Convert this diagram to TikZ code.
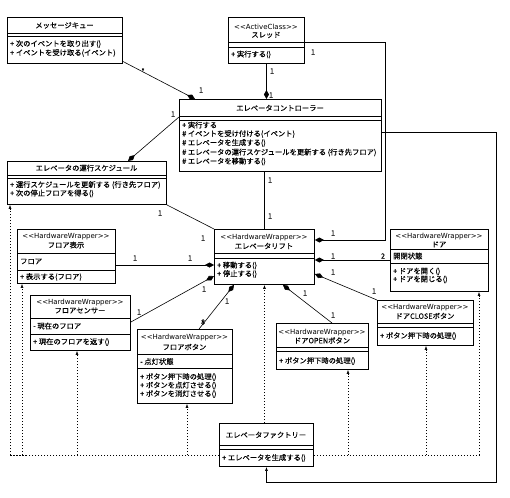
\documentclass[tikz,border=0pt]{standalone}
\usepackage{fontspec}
\setmainfont{Noto Sans CJK JP}[FakeBold=0.15]
\newfontfamily\stfont{DejaVu Sans}
\usetikzlibrary{arrows.meta}
\begin{document}
\begin{tikzpicture}[x=1pt,y=-1pt,
  font=\fontsize{7.3}{8.5}\selectfont,
  cls/.style={draw, line width=0.9pt, fill=white, inner sep=0pt, anchor=north west},
  sep/.style={line width=0.6pt},
  txt/.style={inner sep=0pt, anchor=west},
  ttl/.style={inner sep=0pt},
  stt/.style={inner sep=0pt, font=\stfont\fontsize{7}{8}\selectfont},
  lbl/.style={inner sep=0pt},
  assoc/.style={line width=0.6pt},
  comp/.style={line width=0.6pt, {Diamond[length=9pt,width=5pt]}-},
  nav/.style={line width=0.6pt, -{Latex[length=4pt,width=3pt]}},
  depline/.style={line width=0.6pt, dash pattern=on 1.5pt off 1.5pt},
  dep/.style={depline, -{Latex[length=4pt,width=3pt]}},
]
\useasboundingbox (0,0) rectangle (510,497);
\fill[white] (0,0) rectangle (510,497);

% boxes as shapes
\node[cls, minimum width=115pt, minimum height=46pt] (Q) at (7,17) {};
\node[cls, minimum width=76pt, minimum height=46pt] (T) at (228,17) {};
\node[cls, minimum width=202pt, minimum height=72pt] (C) at (179,99) {};
\node[cls, minimum width=159pt, minimum height=43pt] (S) at (7,161) {};
\node[cls, minimum width=100pt, minimum height=55pt] (L) at (214,229) {};
\node[cls, minimum width=98pt, minimum height=54pt] (FD) at (17,229) {};
\node[cls, minimum width=100pt, minimum height=55pt] (FS) at (30,295) {};
\node[cls, minimum width=95pt, minimum height=74pt] (FB) at (137,329) {};
\node[cls, minimum width=92pt, minimum height=46pt] (DO) at (276,323) {};
\node[cls, minimum width=96pt, minimum height=45pt] (DC) at (377,300) {};
\node[cls, minimum width=98pt, minimum height=62pt] (D) at (390,229) {};
\node[cls, minimum width=94pt, minimum height=43pt] (F) at (219,423) {};

% connectors
\draw[comp] ([xshift=16pt]C.north west) -- ([yshift=-21pt]Q.east);
\draw[comp] (C.north -| T.south) -- (T.south);
\coordinate (tl) at (385,42);
\draw[comp] ([yshift=-11pt]L.north east) -| (tl) -- ([yshift=-25pt]T.north east);
\coordinate (cs) at (128,161);
\draw[comp] (cs) -- ([yshift=-18pt]C.north west);
\draw[assoc] (L.north |- C.south) -- (L.north);
\coordinate (cf) at (496,482);
\draw[nav] ([yshift=-33pt]C.north east) -| (cf) -| (F.south);
\draw[assoc] (S.south east) -- (L.north west);
\coordinate (l8) at ([yshift=-36pt]L.north west);
\draw[comp] (l8) -- (l8 -| FD.east);
\draw[comp] ([yshift=-47pt]L.north west) -- ([yshift=-27pt]FS.north east);
\draw[comp] ([xshift=20pt]L.south west) -- ([xshift=62pt]FB.north west);
\draw[comp] ([xshift=-32pt]L.south east) -- ([xshift=56pt]DO.north west);
\draw[comp] ([yshift=-45pt]L.north east) -- (DC.north west);
\coordinate (l13) at ([yshift=-31pt]L.north east);
\draw[comp] (l13) -- (l13 -| D.west);

% dependencies
\coordinate (fl) at (10,455);
\coordinate (fr) at (479,455);
\coordinate (d2) at (22,455);
\coordinate (d3) at (77,455);
\coordinate (d4) at (187,455);
\coordinate (d5) at (348,455);
\coordinate (d6) at (426,455);
\draw[depline] (F.west |- fl) -- (fl);
\draw[depline] (F.east |- fr) -- (fr);
\draw[dep] (fl) -- (fl |- S.south);
\draw[dep] (d2) -- (d2 |- FD.south);
\draw[dep] (d3) -- (d3 |- FS.south);
\draw[dep] (d4) -- (d4 |- FB.south);
\draw[dep] (L.south |- F.north) -- (L.south);
\draw[dep] (d5) -- (d5 |- DO.south);
\draw[dep] (d6) -- (d6 |- DC.south);
\draw[dep] (fr) -- (fr |- D.south);

% redraw box borders on top of lines
\foreach \b in {Q,T,C,S,L,FD,FS,FB,DO,DC,D,F}{
  \draw[line width=0.9pt] (\b.north west) rectangle (\b.south east);
}

% ---------- compartments ----------
% Q
\draw[sep] (7,33) -- (122,33); \draw[sep] (7,36) -- (122,36);
\node[ttl] (Qt) at (64.5,25.5) {メッセージキュー};
\node[txt] (Qm1) at (10,44) {+ 次のイベントを取り出す()};
\node[txt] (Qm2) at (10,53) {+ イベントを受け取る(イベント)};
% T
\draw[sep] (228,42) -- (304,42); \draw[sep] (228,47) -- (304,47);
\node[stt] (Ts) at (266,26.5) {<{}<ActiveClass>{}>};
\node[ttl] (Tn) at (266,35) {スレッド};
\node[txt] (Tm1) at (231,54.5) {+ 実行する()};
% C
\draw[sep] (179,116) -- (381,116); \draw[sep] (179,120) -- (381,120);
\node[ttl] (Ct) at (280,108) {エレベータコントローラー};
\node[txt] (Cm1) at (182,125) {+ 実行する};
\node[txt] (Cm2) at (182,134) {\# イベントを受け付ける(イベント)};
\node[txt] (Cm3) at (182,143) {\# エレベータを生成する()};
\node[txt] (Cm4) at (182,152.5) {\# エレベータの運行スケジュールを更新する (行き先フロア)};
\node[txt] (Cm5) at (182,161.5) {\# エレベータを移動する()};
% S
\draw[sep] (7,175) -- (166,175); \draw[sep] (7,178) -- (166,178);
\node[ttl] (St) at (86.5,168) {エレベータの運行スケジュール};
\node[txt] (Sm1) at (10,185) {+ 運行スケジュールを更新する (行き先フロア)};
\node[txt] (Sm2) at (10,193.5) {+ 次の停止フロアを得る()};
% L
\draw[sep] (214,253) -- (314,253); \draw[sep] (214,258) -- (314,258);
\node[stt] (Ls) at (264,238) {<{}<HardwareWrapper>{}>};
\node[ttl] (Ln) at (264,246) {エレベータリフト};
\node[txt] (Lm1) at (217,265.5) {+ 移動する()};
\node[txt] (Lm2) at (217,274) {+ 停止する()};
% FD
\draw[sep] (17,253) -- (115,253); \draw[sep] (17,270) -- (115,270);
\node[stt] (FDs) at (66,237) {<{}<HardwareWrapper>{}>};
\node[ttl] (FDn) at (66,245) {フロア表示};
\node[txt] (FDa) at (20,261.5) {フロア};
\node[txt] (FDm) at (20,277) {+ 表示する(フロア)};
% FS
\draw[sep] (30,318) -- (130,318); \draw[sep] (30,334) -- (130,334);
\node[stt] (FSs) at (80,302.5) {<{}<HardwareWrapper>{}>};
\node[ttl] (FSn) at (80,310.5) {フロアセンサー};
\node[txt] (FSa) at (33,326) {- 現在のフロア};
\node[txt] (FSm) at (33,342) {+ 現在のフロアを返す()};
% FB
\draw[sep] (137,354) -- (232,354); \draw[sep] (137,368) -- (232,368);
\node[stt] (FBs) at (184.5,338) {<{}<HardwareWrapper>{}>};
\node[ttl] (FBn) at (184.5,347) {フロアボタン};
\node[txt] (FBa) at (140,361.5) {- 点灯状態};
\node[txt] (FBm1) at (140,377) {+ ボタン押下時の処理()};
\node[txt] (FBm2) at (140,385.5) {+ ボタンを点灯させる()};
\node[txt] (FBm3) at (140,394) {+ ボタンを消灯させる()};
% DO
\draw[sep] (276,347) -- (368,347); \draw[sep] (276,351) -- (368,351);
\node[stt] (DOs) at (322,332.5) {<{}<HardwareWrapper>{}>};
\node[ttl] (DOn) at (322,340.5) {ドアOPENボタン};
\node[txt] (DOm) at (279,361) {+ ボタン押下時の処理()};
% DC
\draw[sep] (377,323) -- (473,323); \draw[sep] (377,327) -- (473,327);
\node[stt] (DCs) at (425,308) {<{}<HardwareWrapper>{}>};
\node[ttl] (DCn) at (425,316) {ドアCLOSEボタン};
\node[txt] (DCm) at (380,336) {+ ボタン押下時の処理()};
% D
\draw[sep] (390,249.5) -- (488,249.5); \draw[sep] (390,263) -- (488,263);
\node[stt] (Ds) at (439,237) {<{}<HardwareWrapper>{}>};
\node[ttl] (Dn) at (439,244.5) {ドア};
\node[txt] (Da) at (393,256) {開閉状態};
\node[txt] (Dm1) at (393,271.5) {+ ドアを開く()};
\node[txt] (Dm2) at (393,279.5) {+ ドアを閉じる()};
% F
\draw[sep] (219,445) -- (313,445); \draw[sep] (219,449) -- (313,449);
\node[ttl] (Ft) at (266,435) {エレベータファクトリー};
\node[txt] (Fm) at (222,458) {+ エレベータを生成する()};

% ---------- multiplicities ----------
\node[lbl] (m1) at (143,71) {*};
\node[lbl] (m2) at (201,90) {1};
\node[lbl] (m3) at (272,71) {1};
\node[lbl] (m4) at (271,95) {1};
\node[lbl] (m5) at (313,52) {1};
\node[lbl] (m6) at (333,233) {1};
\node[lbl] (m7) at (173,114) {1};
\node[lbl] (m8) at (270,180) {1};
\node[lbl] (m9) at (270,216) {1};
\node[lbl] (m10) at (160,213) {1};
\node[lbl] (m11) at (203,238) {1};
\node[lbl] (m12) at (135,258) {1};
\node[lbl] (m13) at (190,258) {1};
\node[lbl] (m14) at (139,312) {1};
\node[lbl] (m15) at (204,289) {1};
\node[lbl] (m16) at (203,322) {8};
\node[lbl] (m17) at (227,301) {1};
\node[lbl] (m18) at (305,293) {1};
\node[lbl] (m19) at (333,315) {1};
\node[lbl] (m20) at (333,272) {1};
\node[lbl] (m21) at (374,291) {1};
\node[lbl] (m22) at (333,256) {1};
\node[lbl] (m23) at (383,256) {2};
\end{tikzpicture}
\end{document}
